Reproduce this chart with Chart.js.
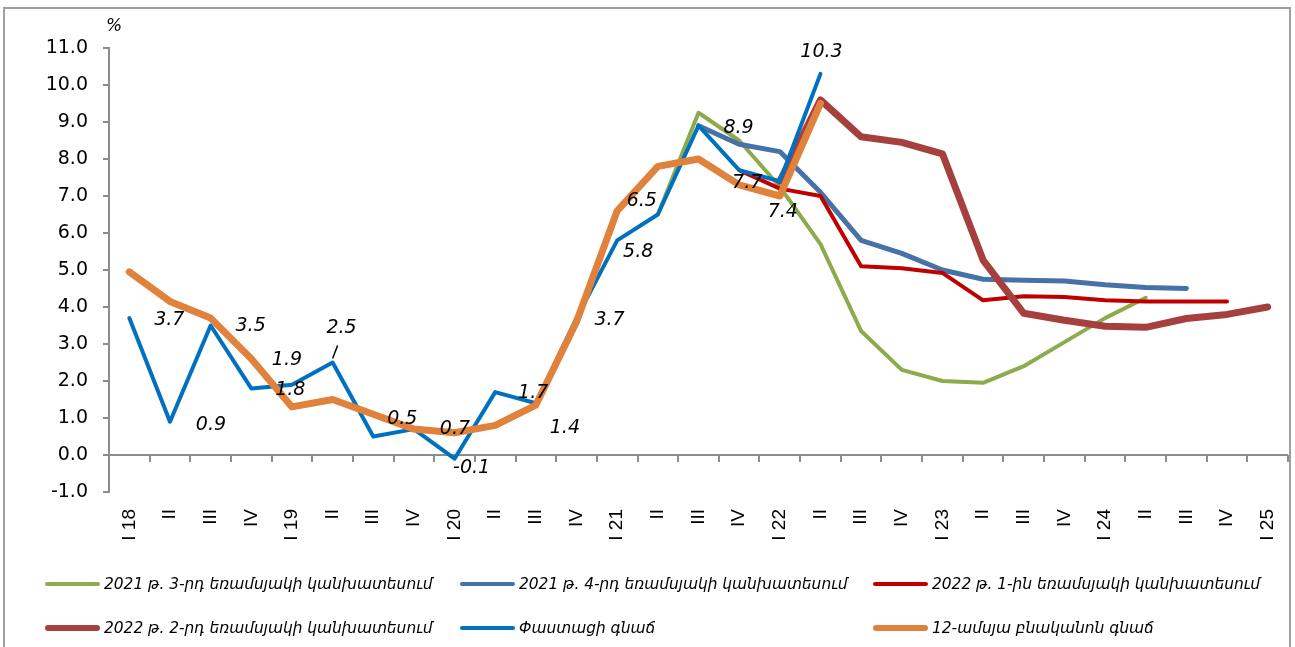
<!DOCTYPE html>
<html>
<head>
<meta charset="utf-8">
<script src="https://cdn.jsdelivr.net/npm/chart.js@4.4.1/dist/chart.umd.min.js"></script>
<style>
html,body{margin:0;padding:0;background:#fff;}
#wrap{position:relative;width:1295px;height:647px;overflow:hidden;background:#fff;}
#frame{position:absolute;left:3px;top:7px;width:1288px;height:700px;border:2px solid #a0a0a0;box-sizing:border-box;}
#c{position:absolute;left:0;top:0;}
#legend{position:absolute;left:0;top:0;width:1295px;height:647px;pointer-events:none;font-family:"DejaVu Sans",sans-serif;font-style:italic;font-size:15.4px;color:#000;}
.item{position:absolute;display:flex;align-items:center;height:24px;white-space:nowrap;}
.sw{width:55px;border-radius:3px;margin-right:4px;}
</style>
</head>
<body>
<div id="wrap">
  <div id="frame"></div>
  <canvas id="c" width="1295" height="647"></canvas>
  <div id="legend"></div>
</div>
<script>
// ---------- data ----------
const categories = ['I 18','II','III','IV','I 19','II','III','IV','I 20','II','III','IV',
  'I 21','II','III','IV','I 22','II','III','IV','I 23','II','III','IV','I 24','II','III','IV','I 25'];

const forecast2021Q3 = [null,null,null,null,null,null,null,null,null,null,null,null,null,
  6.5,9.25,8.5,7.25,5.7,3.35,2.3,2.0,1.95,2.4,3.05,3.7,4.25,null,null,null];
const forecast2021Q4 = [null,null,null,null,null,null,null,null,null,null,null,null,null,null,
  8.9,8.4,8.2,7.1,5.8,5.45,5.0,4.75,4.72,4.7,4.6,4.53,4.5,null,null];
const forecast2022Q1 = [null,null,null,null,null,null,null,null,null,null,null,null,null,null,null,
  7.7,7.2,7.0,5.1,5.05,4.92,4.18,4.29,4.27,4.18,4.15,4.15,4.15,null];
const forecast2022Q2 = [null,null,null,null,null,null,null,null,null,null,null,null,null,null,null,null,
  7.4,9.6,8.6,8.45,8.14,5.27,3.83,3.64,3.48,3.45,3.69,3.8,4.0];
const actualInflation = [3.7,0.9,3.5,1.8,1.9,2.5,0.5,0.7,-0.1,1.7,1.4,3.7,5.8,6.5,8.9,7.7,7.4,10.3,
  null,null,null,null,null,null,null,null,null,null,null];
const coreInflation = [4.95,4.15,3.7,2.6,1.3,1.5,1.1,0.7,0.6,0.8,1.35,3.6,6.6,7.8,8.0,7.3,7.0,9.5,
  null,null,null,null,null,null,null,null,null,null,null];

const yTicks = [-1,0,1,2,3,4,5,6,7,8,9,10,11];

const seriesLabels = [
  '2021 թ. 3-րդ եռամսյակի կանխատեսում',
  '2021 թ. 4-րդ եռամսյակի կանխատեսում',
  '2022 թ. 1-ին եռամսյակի կանխատեսում',
  '2022 թ. 2-րդ եռամսյակի կանխատեսում',
  'Փաստացի գնաճ',
  '12-ամսյա բնականոն գնաճ'
];

// ---------- style (label placement offsets, px) ----------
const labelOffsets = [[40,2],[41,3],[40,1],[39,2],[-5,-25],[9,-34],[29,-17],[41,0],[17,9],[38,1],
  [29,25],[33,2],[21,12],[-16,-13],[40,2],[8,13],[3,31],[1,-22]];
const legendCols = [45,460,873];
const legendRows = [584,628];

function ds(label,data,color,width,order){
  return {label,data,borderColor:color,backgroundColor:color,borderWidth:width,order,
    pointRadius:0,pointHoverRadius:0,tension:0,borderJoinStyle:'round',borderCapStyle:'round',spanGaps:false};
}

const datasets = [
  ds(seriesLabels[0],forecast2021Q3,'#8DAA4D',4,5),
  ds(seriesLabels[1],forecast2021Q4,'#4672A8',5,4),
  ds(seriesLabels[2],forecast2022Q1,'#C00000',4,3),
  ds(seriesLabels[3],forecast2022Q2,'#A6403F',7,2),
  ds(seriesLabels[4],actualInflation,'#0070C0',4,1),
  ds(seriesLabels[5],coreInflation,'#E0823B',7,0)
];

const annot = {
  id:'annot',
  beforeDatasetsDraw(chart){
    const {ctx, chartArea:a, scales:{x,y}} = chart;
    const y0 = y.getPixelForValue(0);
    const half = (x.getPixelForValue(1)-x.getPixelForValue(0))/2;
    ctx.save();
    ctx.strokeStyle='#8c8c8c'; ctx.lineWidth=2;
    ctx.beginPath(); ctx.moveTo(a.left,y0); ctx.lineTo(a.right,y0); ctx.stroke();
    ctx.beginPath();
    for(let i=0;i<categories.length;i++){
      const px = Math.round(x.getPixelForValue(i)+half);
      ctx.moveTo(px,y0); ctx.lineTo(px,y0+7);
    }
    ctx.stroke();
    ctx.restore();
  },
  afterDatasetsDraw(chart){
    const {ctx, scales:{x,y}} = chart;
    ctx.save();
    ctx.font='italic 19px "DejaVu Sans"';
    ctx.fillStyle='#000'; ctx.textAlign='center'; ctx.textBaseline='middle';
    actualInflation.forEach((v,i)=>{
      if(v===null) return;
      const px=x.getPixelForValue(i), py=y.getPixelForValue(v);
      const o=labelOffsets[i]||[0,-20];
      ctx.fillText(v.toFixed(1),px+o[0],py+o[1]);
      if(i===5){
        ctx.strokeStyle='#000'; ctx.lineWidth=1.5;
        ctx.beginPath(); ctx.moveTo(px,py-4); ctx.lineTo(px+5,py-17); ctx.stroke();
      }
    });
    ctx.font='italic 17px "DejaVu Sans"';
    ctx.textAlign='center';
    ctx.fillText('%', chart.chartArea.left+5, chart.chartArea.top-21);
    ctx.restore();
  }
};

const chart = new Chart(document.getElementById('c'),{
  type:'line',
  data:{labels:categories,datasets},
  options:{
    responsive:false,animation:false,devicePixelRatio:1,
    layout:{padding:{top:48,right:7,left:0,bottom:0}},
    plugins:{legend:{display:false},tooltip:{enabled:false}},
    scales:{
      x:{type:'category',offset:true,
        grid:{display:false},border:{display:false},
        ticks:{autoSkip:false,maxRotation:90,minRotation:90,padding:9,
          font:{family:'Liberation Sans',size:19},color:'#000'},
        afterFit(s){s.height=155; s.paddingLeft=0; s.paddingRight=0;}
      },
      y:{min:-1,max:11,
        afterBuildTicks(s){s.ticks=yTicks.map(v=>({value:v}));},
        ticks:{callback:v=>Number(v).toFixed(1),font:{family:'DejaVu Sans',size:19},color:'#000',padding:15},
        grid:{drawOnChartArea:false,drawTicks:true,tickLength:6,color:'#8c8c8c',lineWidth:2},
        border:{display:true,color:'#8c8c8c',width:2},
        afterFit(s){s.width=109;}
      }
    }
  },
  plugins:[annot]
});

// ---------- HTML legend built from datasets ----------
const leg = document.getElementById('legend');
chart.data.datasets.forEach((d,i)=>{
  const row = Math.floor(i/3), col = i%3;
  const it = document.createElement('div');
  it.className='item';
  it.style.left = legendCols[col]+'px';
  it.style.top = (legendRows[row]-12)+'px';
  const sw = document.createElement('span');
  sw.className='sw';
  sw.style.height = Math.max(4,d.borderWidth-1)+'px';
  sw.style.background = d.borderColor;
  const tx = document.createElement('span');
  tx.textContent = d.label;
  it.appendChild(sw); it.appendChild(tx);
  leg.appendChild(it);
});
</script>
</body>
</html>
